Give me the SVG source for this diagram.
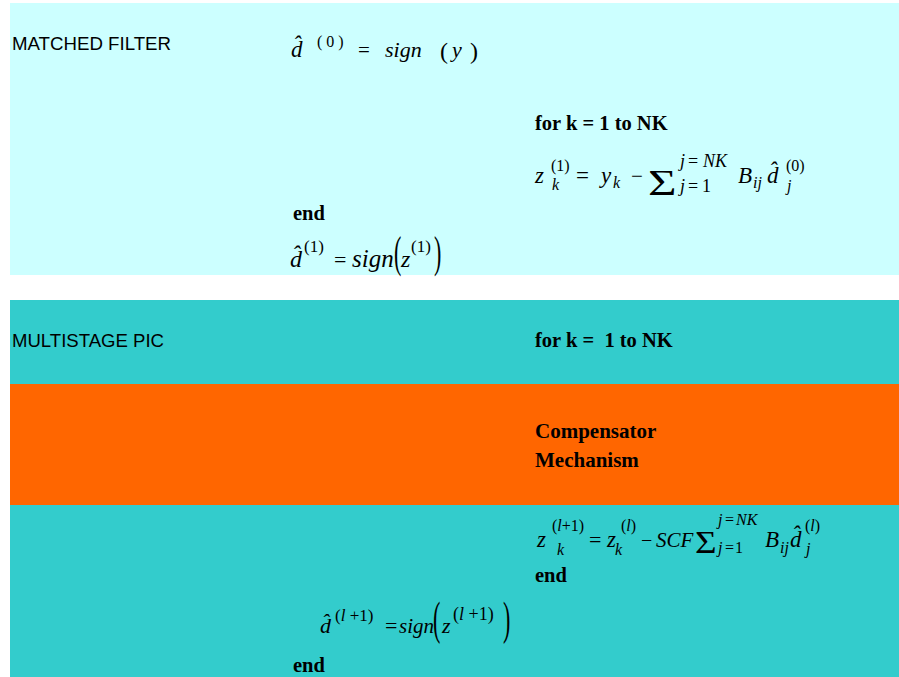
<svg xmlns="http://www.w3.org/2000/svg" width="899" height="677" viewBox="0 0 899 677">
<style>
.lbl{font-family:"Liberation Sans",Arial,sans-serif;font-size:18px;fill:#000}
.b{font-family:"Liberation Serif","Times New Roman",serif;font-weight:bold;font-size:20.5px;fill:#000}
.m{font-family:"Liberation Serif","Times New Roman",serif;font-size:23px;fill:#000}
.i{font-style:italic}
.s{font-size:16px}
.h{font-size:18px;font-style:normal}
</style>
<rect x="10" y="3" width="889" height="272" fill="#CCFFFF"/>
<rect x="10" y="300" width="889" height="84" fill="#33CCCC"/>
<rect x="10" y="384" width="889" height="121" fill="#FF6600"/>
<rect x="10" y="505" width="889" height="172" fill="#33CCCC"/>

<g id="matched-filter">
<text class="lbl" x="12" y="50" textLength="159" lengthAdjust="spacingAndGlyphs">MATCHED FILTER</text>
<text class="m i" x="291" y="57">d̂</text>
<text class="m" x="317" y="47" style="font-size:16px" xml:space="preserve">( 0 )</text>
<text class="m" x="358" y="57" style="font-size:21px">=</text>
<text class="m i" x="385" y="57" style="font-size:22px">sign</text>
<text class="m" x="440" y="58.5" style="font-size:24px">(</text>
<text class="m i" x="452" y="57" style="font-size:22px">y</text>
<text class="m" x="470" y="58.5" style="font-size:24px">)</text>

<text class="b" x="535" y="130">for k = 1 to NK</text>
<text class="m i" x="535" y="183">z</text>
<text class="m s" x="551" y="171">(1)</text>
<text class="m i s" x="552" y="190">k</text>
<text class="m" x="576" y="183">=</text>
<text class="m i" x="601" y="183">y</text>
<text class="m i s" x="613" y="188">k</text>
<text class="m" x="631" y="183" style="font-size:21px">−</text>
<text class="m" transform="translate(648,195) scale(1.4,1)" style="font-size:35px">Σ</text>
<text class="m i h" x="680" y="167" style="font-style:italic">j</text><text class="m h" x="688" y="167">=</text><text class="m i h" x="703" y="167" style="font-style:italic">NK</text>
<text class="m i h" x="680" y="192" style="font-style:italic">j</text><text class="m h" x="688" y="192">=</text><text class="m h" x="702" y="192">1</text>
<text class="m i" x="738" y="183">B</text>
<text class="m i s" x="753" y="188">ij</text>
<text class="m i" x="767" y="183">d̂</text>
<text class="m s" x="786" y="171">(0)</text>
<text class="m i s" x="787" y="191">j</text>

<text class="b" x="293" y="220">end</text>
<text class="m i" x="290" y="267" style="font-size:24px">d̂</text>
<text class="m" x="304" y="252" style="font-size:17px">(1)</text>
<text class="m" x="334" y="267" style="font-size:22px">=</text>
<text class="m i" x="352" y="267" style="font-size:25px">sign</text>
<text class="m" transform="translate(394,267) scale(1,2)" style="font-size:22px">(</text>
<text class="m i" x="401" y="267" style="font-size:24px">z</text>
<text class="m" x="411" y="252" style="font-size:17px">(1)</text>
<text class="m" transform="translate(434,267) scale(1,2)" style="font-size:22px">)</text>
</g>

<g id="multistage-pic">
<text class="lbl" x="12" y="347" textLength="152" lengthAdjust="spacingAndGlyphs">MULTISTAGE PIC</text>
<text class="b" x="535" y="347" xml:space="preserve">for k =  1 to NK</text>
</g>

<g id="compensator">
<text class="b" x="535" y="438" style="font-size:21px">Compensator</text>
<text class="b" x="535" y="467" style="font-size:21px">Mechanism</text>
</g>

<g id="update">
<text class="m i" x="537" y="547">z</text>
<text class="m s" x="552" y="531">(<tspan class="i">l</tspan>+1)</text>
<text class="m i s" x="557" y="555">k</text>
<text class="m" x="589" y="547" style="font-size:22px">=</text>
<text class="m i" x="607" y="547">z</text>
<text class="m s" x="621" y="531">(<tspan class="i">l</tspan>)</text>
<text class="m i s" x="615" y="555">k</text>
<text class="m" x="641" y="547" style="font-size:20px">−</text>
<text class="m i" x="656" y="547" style="font-size:21px">SCF</text>
<text class="m" transform="translate(695,553) scale(1.16,1)" style="font-size:32px">Σ</text>
<text class="m i s" x="718" y="525">j</text><text class="m s" x="725" y="525">=</text><text class="m i s" x="736" y="525">NK</text>
<text class="m i s" x="718" y="553">j</text><text class="m s" x="725" y="553">=</text><text class="m s" x="735" y="553">1</text>
<text class="m i" x="765" y="547">B</text>
<text class="m i s" x="780" y="553">ij</text>
<text class="m i" x="790" y="547">d̂</text>
<text class="m s" x="805" y="531">(<tspan class="i">l</tspan>)</text>
<text class="m i s" x="806" y="554">j</text>
<text class="b" x="535" y="582">end</text>

<text class="m i" x="320" y="633" style="font-size:22px">d̂</text>
<text class="m" x="335" y="621" style="font-size:17px" xml:space="preserve">(<tspan class="i">l</tspan> +1)</text>
<text class="m" x="385" y="633" style="font-size:22px">=</text>
<text class="m i" x="399" y="633" style="font-size:21px">sign</text>
<text class="m" transform="translate(433,634) scale(1,2.1)" style="font-size:22px">(</text>
<text class="m i" x="442" y="633" style="font-size:22px">z</text>
<text class="m" x="453" y="620" style="font-size:18px" xml:space="preserve">(<tspan class="i">l</tspan> +1)</text>
<text class="m" transform="translate(503,634) scale(1,2.1)" style="font-size:22px">)</text>
<text class="b" x="293" y="672">end</text>
</g>
</svg>
